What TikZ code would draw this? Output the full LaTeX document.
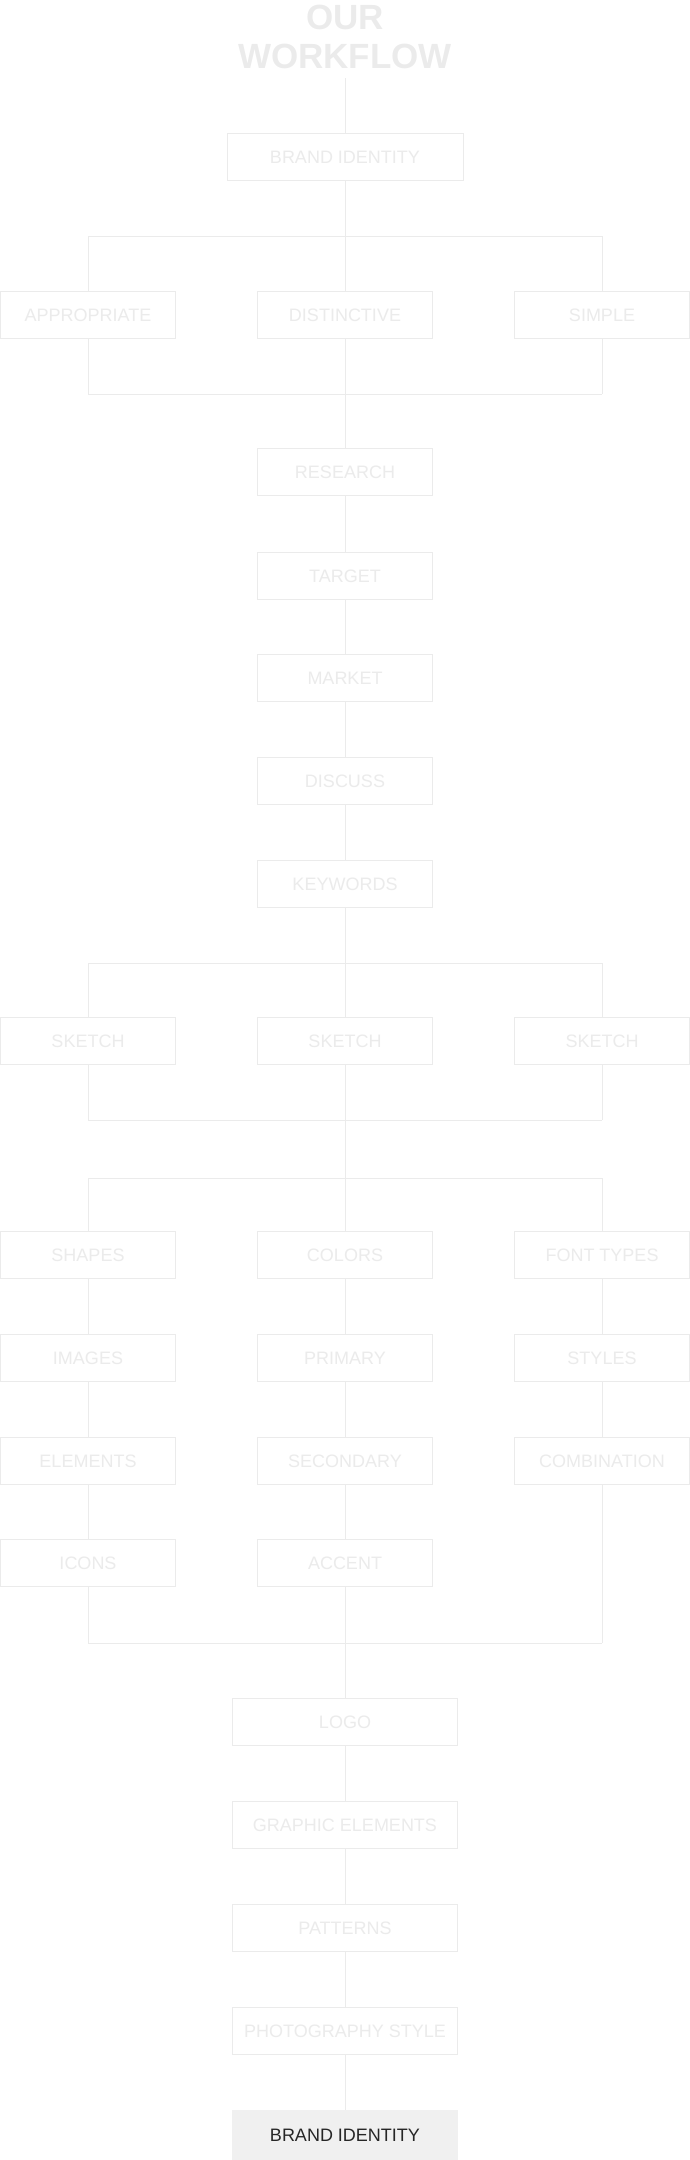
\documentclass[tikz,border=0pt]{standalone}
\usepackage{fontspec}
\setmainfont{Liberation Sans}
\definecolor{lt}{HTML}{EBEBEB}
\definecolor{fin}{HTML}{F0F0F0}
\begin{document}
\begin{tikzpicture}[x=1pt,y=-1pt,
  bx/.style={draw=lt,line width=0.8pt,fill=white,text=lt,minimum height=47pt,inner sep=0pt,font=\fontsize{18}{20}\selectfont},
  sbx/.style={bx,minimum width=175pt},
  wbx/.style={bx,minimum width=225pt},
  ln/.style={draw=lt,line width=0.8pt}]
\useasboundingbox (0,0) rectangle (690,2160);
\node[text=lt,font=\bfseries\fontsize{35}{39}\selectfont,align=center] (title) at (345,37) {OUR\\WORKFLOW};
\coordinate (t0) at (345,78);
\node[bx,minimum width=236pt] (bi) at (345,157) {BRAND IDENTITY};
\node[sbx] (app) at (88,315) {APPROPRIATE};
\node[sbx] (dis) at (345,315) {DISTINCTIVE};
\node[sbx] (sim) at (602,315) {SIMPLE};
\coordinate (b1t) at (345,236); \coordinate (b1l) at (88,236); \coordinate (b1r) at (602,236);
\coordinate (b1b) at (345,394); \coordinate (b1bl) at (88,394); \coordinate (b1br) at (602,394);
\node[sbx] (res) at (345,472) {RESEARCH};
\node[sbx] (tar) at (345,576) {TARGET};
\node[sbx] (mar) at (345,678) {MARKET};
\node[sbx] (dsc) at (345,781) {DISCUSS};
\node[sbx] (key) at (345,884) {KEYWORDS};
\coordinate (b2t) at (345,963); \coordinate (b2l) at (88,963); \coordinate (b2r) at (602,963);
\node[sbx] (s1) at (88,1041) {SKETCH};
\node[sbx] (s2) at (345,1041) {SKETCH};
\node[sbx] (s3) at (602,1041) {SKETCH};
\coordinate (b2b) at (345,1120); \coordinate (b2bl) at (88,1120); \coordinate (b2br) at (602,1120);
\coordinate (b3t) at (345,1178); \coordinate (b3l) at (88,1178); \coordinate (b3r) at (602,1178);
\node[sbx] (sha) at (88,1255) {SHAPES};
\node[sbx] (col) at (345,1255) {COLORS};
\node[sbx] (fon) at (602,1255) {FONT TYPES};
\node[sbx] (ima) at (88,1358) {IMAGES};
\node[sbx] (pri) at (345,1358) {PRIMARY};
\node[sbx] (sty) at (602,1358) {STYLES};
\node[sbx] (ele) at (88,1461) {ELEMENTS};
\node[sbx] (sec) at (345,1461) {SECONDARY};
\node[sbx] (com) at (602,1461) {COMBINATION};
\node[sbx] (ico) at (88,1563) {ICONS};
\node[sbx] (acc) at (345,1563) {ACCENT};
\coordinate (b3b) at (345,1643); \coordinate (b3bl) at (88,1643); \coordinate (b3br) at (602,1643);
\node[wbx] (logo) at (345,1722) {LOGO};
\node[wbx] (gra) at (345,1825) {GRAPHIC ELEMENTS};
\node[wbx] (pat) at (345,1928) {PATTERNS};
\node[wbx] (pho) at (345,2031) {PHOTOGRAPHY STYLE};
\node[wbx,fill=fin,draw=fin,text=black!85,minimum height=50pt] (fin) at (345,2135) {BRAND IDENTITY};
\path[ln] (t0) -- (bi) (bi) -- (b1t) (b1l) -- (b1r) (b1l) -- (app) (b1t) -- (dis) (b1r) -- (sim)
 (app) -- (b1bl) (dis) -- (b1b) (sim) -- (b1br) (b1bl) -- (b1br) (b1b) -- (res)
 (res) -- (tar) (tar) -- (mar) (mar) -- (dsc) (dsc) -- (key) (key) -- (b2t)
 (b2l) -- (b2r) (b2l) -- (s1) (b2t) -- (s2) (b2r) -- (s3)
 (s1) -- (b2bl) (s2) -- (b2b) (s3) -- (b2br) (b2bl) -- (b2br) (b2b) -- (b3t)
 (b3l) -- (b3r) (b3l) -- (sha) (b3t) -- (col) (b3r) -- (fon)
 (sha) -- (ima) (ima) -- (ele) (ele) -- (ico) (col) -- (pri) (pri) -- (sec) (sec) -- (acc)
 (fon) -- (sty) (sty) -- (com)
 (ico) -- (b3bl) (acc) -- (b3b) (com) -- (b3br) (b3bl) -- (b3br) (b3b) -- (logo)
 (logo) -- (gra) (gra) -- (pat) (pat) -- (pho) (pho) -- (fin);
\end{tikzpicture}
\end{document}
